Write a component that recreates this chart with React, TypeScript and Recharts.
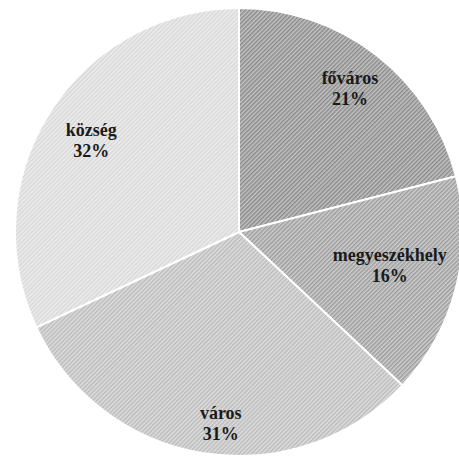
import { Cell, Pie, PieChart } from "recharts";

const categories = ["főváros", "megyeszékhely", "város", "község"];
const shares = [21, 16, 31, 32];

// hatch pattern colours per slice: background, line
const hatchBg = ["#c4c4c4", "#cfcfcf", "#dfdfdf", "#efefef"];
const hatchLine = ["#8a8a8a", "#9c9c9c", "#bababa", "#d6d6d6"];

// small nudges so labels sit where the original placed them
const labelNudge = [
  [8, -12],
  [-12, -10],
  [8, 24],
  [-6, -3],
];

const data = categories.map((name, i) => ({ name, value: shares[i] }));

const RADIAN = Math.PI / 180;

function renderLabel(props: any) {
  const { cx, cy, midAngle, outerRadius, index, value, name } = props;
  const r = outerRadius * 0.75;
  const x = cx + r * Math.cos(-midAngle * RADIAN) + labelNudge[index][0];
  const y = cy + r * Math.sin(-midAngle * RADIAN) + labelNudge[index][1];
  return (
    <text
      x={x}
      y={y}
      fill="#1a1a1a"
      fontFamily="'Liberation Serif', serif"
      fontSize={18}
      fontWeight="bold"
      textAnchor="middle"
    >
      <tspan x={x} dy={-3}>
        {name}
      </tspan>
      <tspan x={x} dy={21}>
        {value}%
      </tspan>
    </text>
  );
}

export default function App() {
  return (
    <div
      style={{
        position: "absolute",
        left: 0,
        top: 0,
        width: 459,
        height: 459,
        background: "#fff",
      }}
    >
      <PieChart width={459} height={459} margin={{ top: 0, right: 0, bottom: 0, left: 0 }}>
        <defs>
          {categories.map((_, i) => (
            <pattern
              key={i}
              id={`hatch${i}`}
              width={3}
              height={3}
              patternUnits="userSpaceOnUse"
              patternTransform="rotate(45)"
            >
              <rect width={3} height={3} fill={hatchBg[i]} />
              <line x1={0.75} y1={0} x2={0.75} y2={3} stroke={hatchLine[i]} strokeWidth={1.5} />
            </pattern>
          ))}
        </defs>
        <Pie
          data={data}
          dataKey="value"
          nameKey="name"
          cx={239}
          cy={232}
          outerRadius={224}
          startAngle={90}
          endAngle={-270}
          stroke="#ffffff"
          strokeWidth={2}
          label={renderLabel}
          labelLine={false}
          isAnimationActive={false}
        >
          {data.map((_, i) => (
            <Cell key={i} fill={`url(#hatch${i})`} />
          ))}
        </Pie>
      </PieChart>
    </div>
  );
}
